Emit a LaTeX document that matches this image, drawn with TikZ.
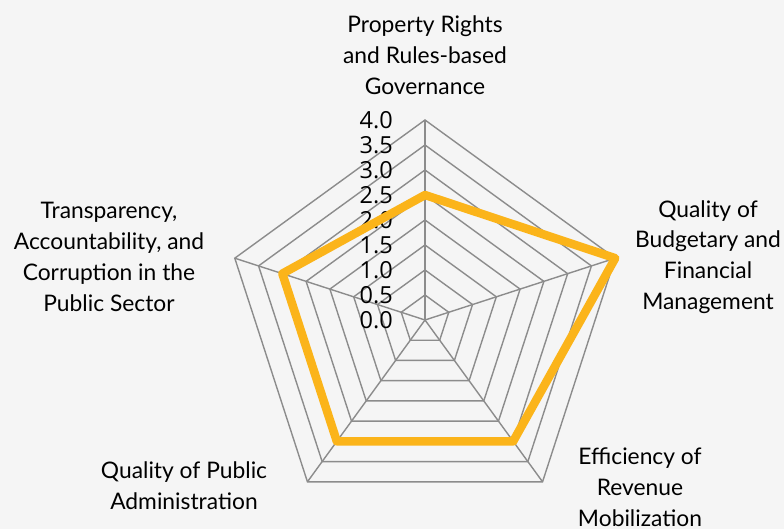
\documentclass[tikz,border=0pt]{standalone}
\usepackage{fontspec}
\setmainfont{Lato}
\newfontfamily\numfont{Open Sans}
\definecolor{gridgray}{HTML}{8C8C8C}
\definecolor{radarorange}{HTML}{FBB41A}
\definecolor{bggray}{HTML}{F5F5F5}
\newcommand{\drawLevel}[1]{% radius in pt
  \draw[gridline] (90:#1) -- (18:#1) -- (-54:#1) -- (-126:#1) -- (162:#1) -- cycle;
}

\begin{document}
\begin{tikzpicture}[x=1pt,y=1pt,
  gridline/.style={draw=gridgray,line width=1.4pt},
  dataline/.style={draw=radarorange,line width=8.5pt,line join=round},
  axislabel/.style={align=center,font=\fontsize{22.8}{30.8}\selectfont,text=black},
  ticklabel/.style={anchor=east,font=\numfont\fontsize{23.5}{23.5}\selectfont,inner sep=0pt}]
% Background and frame
\useasboundingbox[fill=bggray] (-425,-209) rectangle (359,320);

% Grid pentagons
\foreach \r in {25,50,...,200}{\drawLevel{\r}}

% Spokes
\coordinate (c) at (0,0);
\foreach \a/\n in {90/top,18/right,-54/botright,-126/botleft,162/left}{
  \coordinate (v\n) at (\a:200);
  \draw[gridline] (c) -- (v\n);
}

% Scale
\foreach \i/\t in {0/0.0,1/0.5,2/1.0,3/1.5,4/2.0,5/2.5,6/3.0,7/3.5,8/4.0}
  \node[ticklabel] (tick\i) at (-32,25*\i) {\t};

% Data
\coordinate (dtop) at (90:125);
\coordinate (dright) at (18:200);
\coordinate (dbotright) at (-54:150);
\coordinate (dbotleft) at (-126:150);
\coordinate (dleft) at (162:150);
\draw[dataline] (dtop) -- (dright) -- (dbotright) -- (dbotleft) -- (dleft) -- cycle;

% Axis labels
\node[axislabel] (ltop) at (0,265) {Property Rights\\and Rules-based\\Governance};
\node[axislabel] (lright) at (283,63) {Quality of\\Budgetary and\\Financial\\Management};
\node[axislabel] (lbotright) at (215,-167) {Efficiency of\\Revenue\\Mobilization};
\node[axislabel] (lbotleft) at (-241,-166) {Quality of Public\\Administration};
\node[axislabel] (lleft) at (-316,63) {Transparency,\\Accountability, and\\Corruption in the\\Public Sector};
\end{tikzpicture}
\end{document}
